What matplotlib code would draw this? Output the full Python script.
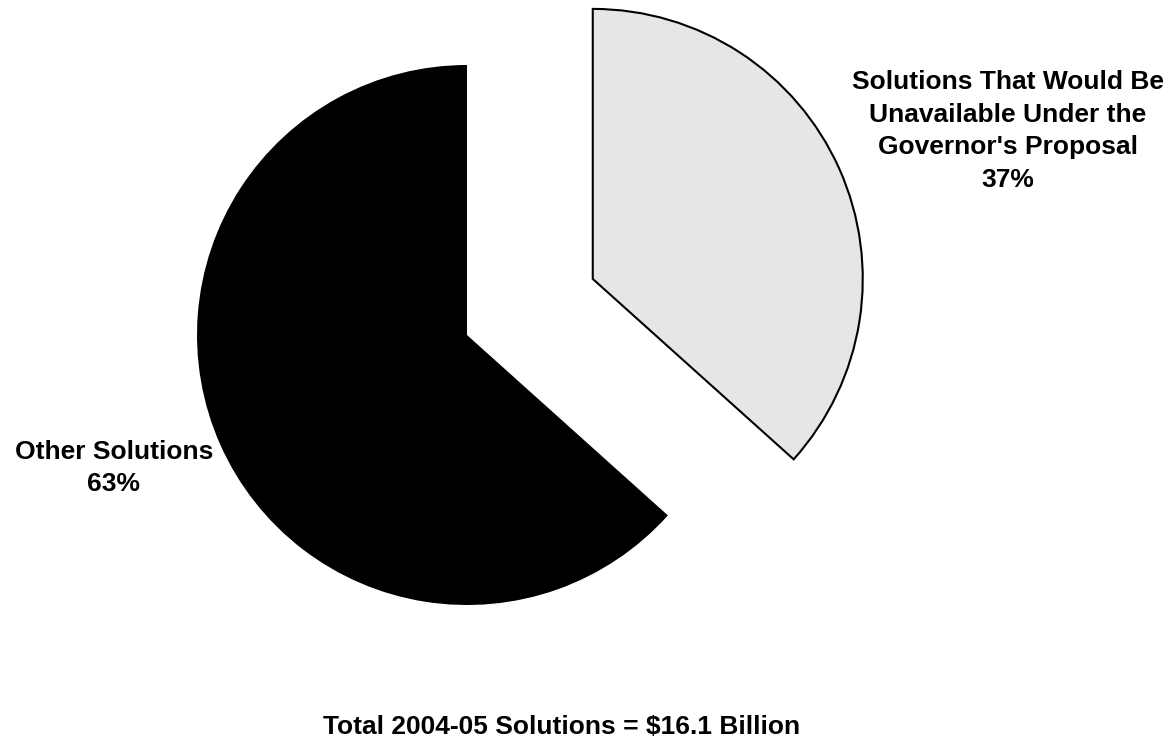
import matplotlib
matplotlib.use("Agg")
import matplotlib.pyplot as plt

labels = ["Solutions That Would Be\nUnavailable Under the\nGovernor's Proposal", "Other Solutions"]
amounts = [5.9, 10.2]   # billions of dollars
colors = ["#e6e6e6", "#000000"]
total_note = "Total 2004-05 Solutions = $16.1 Billion"

plt.rcParams['font.family'] = ['Liberation Sans', 'DejaVu Sans']

fig = plt.figure(figsize=(11.69, 7.4), dpi=100)
ax = fig.add_axes([0, 0, 1, 1])

r = 270
# explode is in data units, so scale by the radius
wedges, _ = ax.pie(amounts, colors=colors, startangle=90, counterclock=False,
                   explode=[0.51 * r, 0], center=(467, 405), radius=r,
                   wedgeprops=dict(linewidth=1.5, edgecolor='black'))
wedges[1].set_linewidth(0)

ax.set_xlim(0, 1169)
ax.set_ylim(0, 740)
ax.set_aspect('equal')
ax.axis('off')

total = sum(amounts)
pct = [round(100 * a / total) for a in amounts]

ax.text(1008, 740 - 131, f"{labels[0]}\n{pct[0]}%", ha='center', va='center',
        fontsize=19, fontweight='bold', linespacing=1.45)
ax.text(114, 740 - 468, f"{labels[1]}\n{pct[1]}%", ha='center', va='center',
        fontsize=19, fontweight='bold', linespacing=1.45)
ax.text(562, 740 - 727, total_note, ha='center', va='center', fontsize=19, fontweight='bold')

fig.savefig("out.png", dpi=100)
